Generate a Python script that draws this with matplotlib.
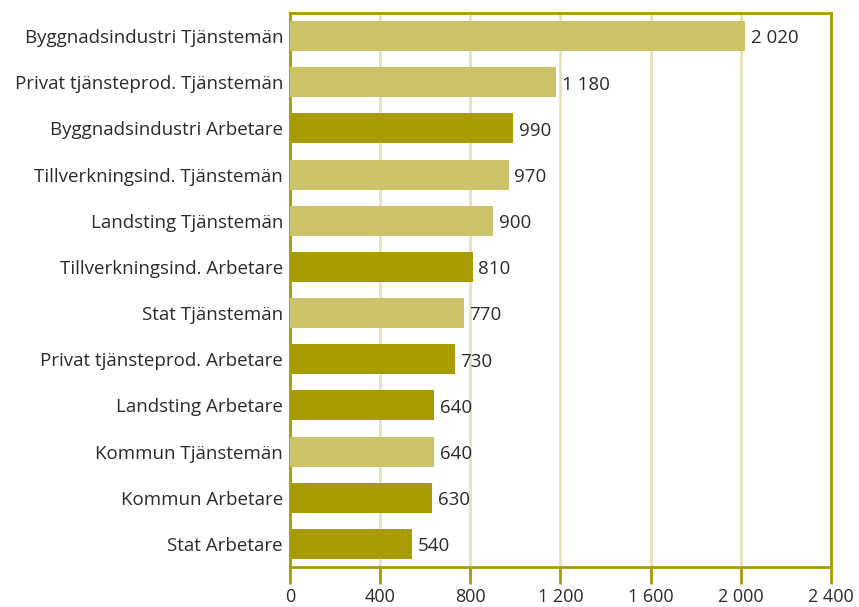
import matplotlib.pyplot as plt
from matplotlib.ticker import FuncFormatter

plt.rcParams['font.family'] = ['Open Sans', 'DejaVu Sans']

categories = ['Byggnadsindustri Tjänstemän', 'Privat tjänsteprod. Tjänstemän',
              'Byggnadsindustri Arbetare', 'Tillverkningsind. Tjänstemän',
              'Landsting Tjänstemän', 'Tillverkningsind. Arbetare',
              'Stat Tjänstemän', 'Privat tjänsteprod. Arbetare',
              'Landsting Arbetare', 'Kommun Tjänstemän',
              'Kommun Arbetare', 'Stat Arbetare']
values = [2020, 1180, 990, 970, 900, 810, 770, 730, 640, 640, 630, 540]
groups = ['T', 'T', 'A', 'T', 'T', 'A', 'T', 'A', 'A', 'T', 'A', 'A']
xticks = [0, 400, 800, 1200, 1600, 2000, 2400]

light = '#CCC26A'
dark = '#A89B00'
grid = '#E8E1B4'
text = '#2b2b2b'


def fmt(v, pos=None):
    return f'{int(v):,}'.replace(',', ' ')


fig = plt.figure(figsize=(8.59, 6.07), dpi=100)
ax = fig.add_axes([0.3376, 0.0659, 0.6298, 0.9127])

colors = [light if g == 'T' else dark for g in groups]
y = list(range(len(categories)))
ax.barh(y, values, height=0.65, color=colors, zorder=3)

for yi, v in zip(y, values):
    ax.text(v + 25, yi + 0.05, fmt(v), va='center', ha='left', fontsize=13.5, color=text)

ax.set_ylim(len(categories) - 0.5, -0.5)
ax.set_xlim(0, 2400)
ax.set_yticks(y)
ax.set_yticklabels(categories, fontsize=13.5, color=text)
ax.set_xticks(xticks)
ax.xaxis.set_major_formatter(FuncFormatter(fmt))
ax.tick_params(axis='y', length=0, pad=5)
ax.tick_params(axis='x', length=12, width=2, color=dark, labelsize=13,
               labelcolor=text, pad=3)

ax.grid(axis='x', color=grid, linewidth=2, zorder=1)
for s in ax.spines.values():
    s.set_color(dark)
    s.set_linewidth(2)

fig.savefig('out.png', dpi=100)
